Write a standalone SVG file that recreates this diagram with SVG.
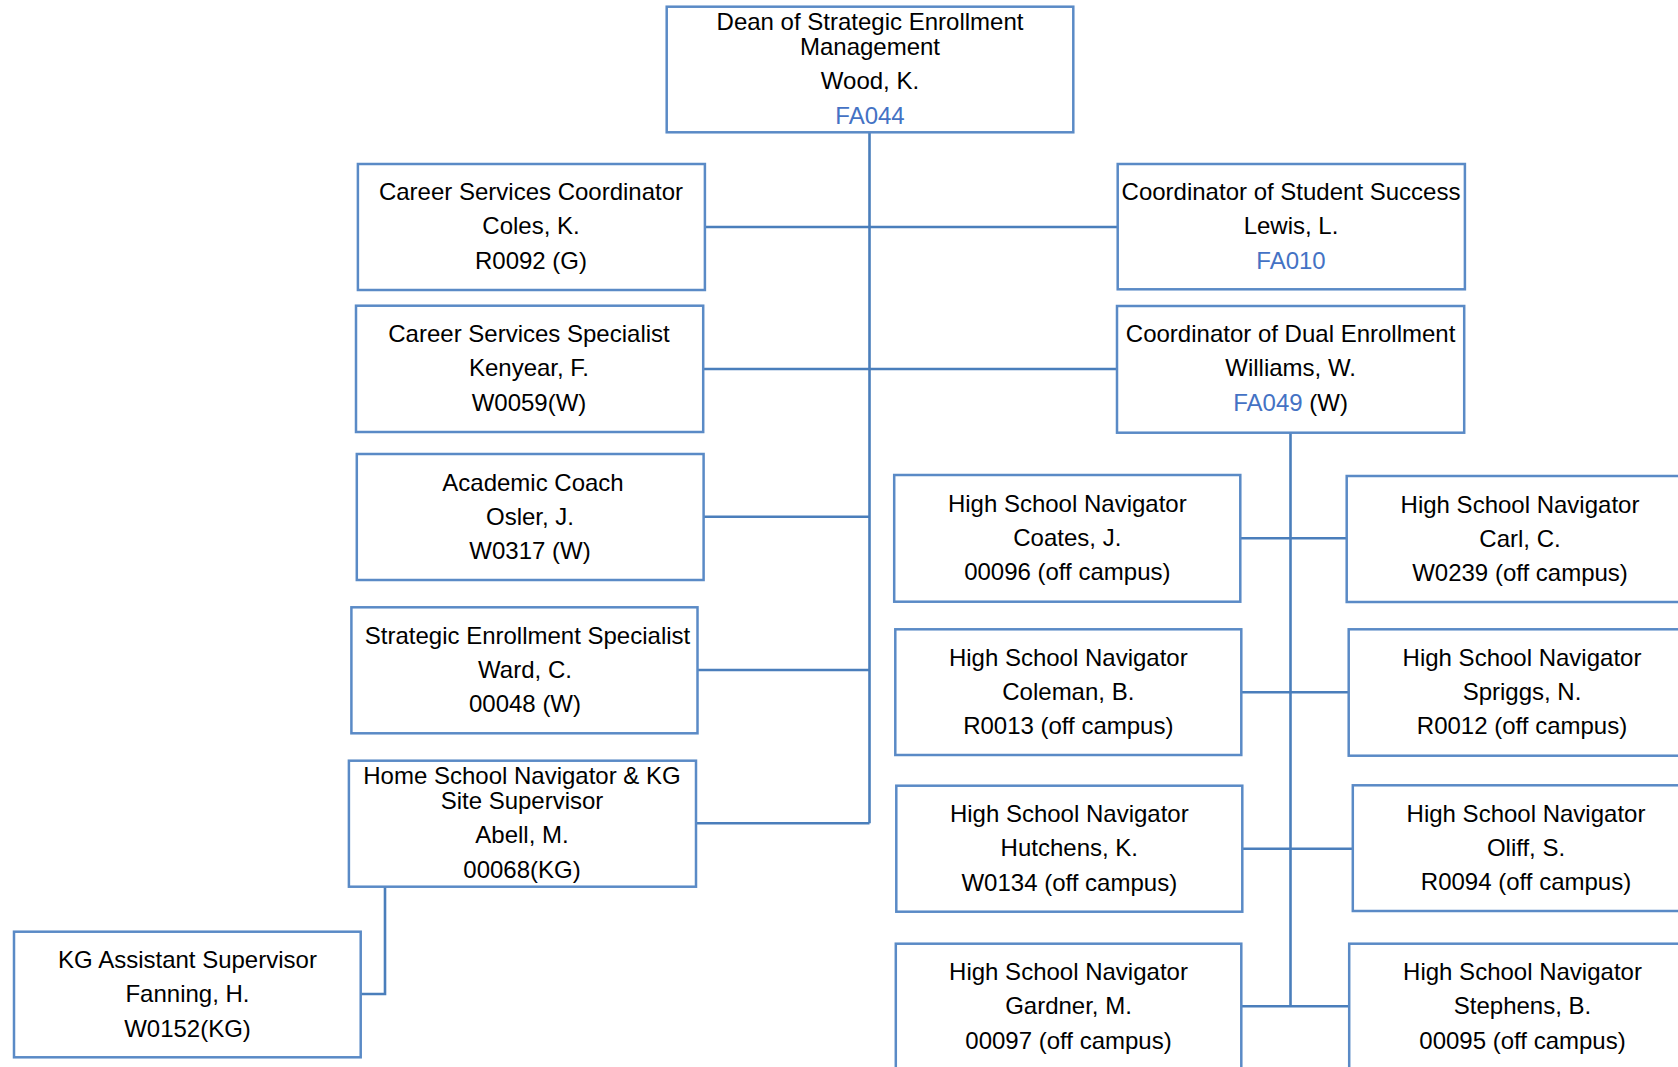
<svg xmlns="http://www.w3.org/2000/svg" width="1678" height="1067" viewBox="0 0 1678 1067">
<style>
.box{fill:#fff;stroke:#5A8AC6;stroke-width:2.5}
.c{fill:none;stroke:#4A7EBB;stroke-width:2.6}
text{font-family:"Liberation Sans",Arial,sans-serif;font-size:24px;fill:#000;text-anchor:middle}
.b{fill:#4472C4}
</style>
<rect width="1678" height="1067" fill="#fff"/>
<g id="connectors">
<path class="c" d="M869.5,132.3V823.3"/>
<path class="c" d="M704,227H1118"/>
<path class="c" d="M703,369H1117"/>
<path class="c" d="M703.6,516.7H869.5"/>
<path class="c" d="M697.5,670H869.5"/>
<path class="c" d="M696,823.3H869.5"/>
<path class="c" d="M385,886.7V994H360.7"/>
<path class="c" d="M1290.5,432.7V1006.3"/>
<path class="c" d="M1240.3,538.3H1346.7"/>
<path class="c" d="M1241.3,692.3H1348.7"/>
<path class="c" d="M1242.3,848.7H1352.8"/>
<path class="c" d="M1241.3,1006.3H1349.2"/>
</g>
<g id="dean">
<rect class="box" x="666.7" y="6.7" width="406.6" height="125.6"/>
<text x="870" y="30">Dean of Strategic Enrollment</text>
<text x="870" y="55">Management</text>
<text x="870" y="89">Wood, K.</text>
<text x="870" y="124" class="b">FA044</text>
</g>
<g id="career-coordinator">
<rect class="box" x="357.9" y="164" width="347" height="126"/>
<text x="531" y="200">Career Services Coordinator</text>
<text x="531" y="234">Coles, K.</text>
<text x="531" y="269">R0092 (G)</text>
</g>
<g id="student-success">
<rect class="box" x="1117.7" y="164" width="347.2" height="125.3"/>
<text x="1291" y="200">Coordinator of Student Success</text>
<text x="1291" y="234">Lewis, L.</text>
<text x="1291" y="269" class="b">FA010</text>
</g>
<g id="career-specialist">
<rect class="box" x="356" y="305.7" width="347.2" height="126.3"/>
<text x="529" y="342">Career Services Specialist</text>
<text x="529" y="376">Kenyear, F.</text>
<text x="529" y="411">W0059(W)</text>
</g>
<g id="dual-enrollment">
<rect class="box" x="1117" y="306" width="347.2" height="126.7"/>
<text x="1290.6" y="342">Coordinator of Dual Enrollment</text>
<text x="1290.6" y="376">Williams, W.</text>
<text x="1290.6" y="411"><tspan class="b">FA049</tspan> (W)</text>
</g>
<g id="academic-coach">
<rect class="box" x="356.8" y="454" width="346.8" height="126"/>
<text x="533" y="490.5">Academic Coach</text>
<text x="530" y="524.5">Osler, J.</text>
<text x="530" y="559">W0317 (W)</text>
</g>
<g id="strategic-specialist">
<rect class="box" x="351.4" y="607.3" width="346.1" height="126"/>
<text x="527.5" y="643.8">Strategic Enrollment Specialist</text>
<text x="525" y="677.8">Ward, C.</text>
<text x="525" y="712.3">00048 (W)</text>
</g>
<g id="home-school">
<rect class="box" x="348.9" y="760.7" width="347.1" height="126"/>
<text x="522" y="783.5">Home School Navigator &amp; KG</text>
<text x="522" y="808.5">Site Supervisor</text>
<text x="522" y="843">Abell, M.</text>
<text x="522" y="877.5">00068(KG)</text>
</g>
<g id="kg-assistant">
<rect class="box" x="14" y="931.7" width="346.7" height="125.6"/>
<text x="187.5" y="968.3">KG Assistant Supervisor</text>
<text x="187.5" y="1002.3">Fanning, H.</text>
<text x="187.5" y="1036.7">W0152(KG)</text>
</g>
<g id="hs-coates">
<rect class="box" x="894.2" y="475" width="346.1" height="126.7"/>
<text x="1067.3" y="511.7">High School Navigator</text>
<text x="1067.3" y="546">Coates, J.</text>
<text x="1067.3" y="580">00096 (off campus)</text>
</g>
<g id="hs-carl">
<rect class="box" x="1346.7" y="476" width="346.6" height="126"/>
<text x="1520" y="512.5">High School Navigator</text>
<text x="1520" y="546.5">Carl, C.</text>
<text x="1520" y="581">W0239 (off campus)</text>
</g>
<g id="hs-coleman">
<rect class="box" x="895.3" y="629.3" width="346" height="125.7"/>
<text x="1068.3" y="665.8">High School Navigator</text>
<text x="1068.3" y="699.8">Coleman, B.</text>
<text x="1068.3" y="734.3">R0013 (off campus)</text>
</g>
<g id="hs-spriggs">
<rect class="box" x="1348.7" y="629.3" width="346.6" height="126.4"/>
<text x="1522" y="665.8">High School Navigator</text>
<text x="1522" y="699.8">Spriggs, N.</text>
<text x="1522" y="734.3">R0012 (off campus)</text>
</g>
<g id="hs-hutchens">
<rect class="box" x="896.3" y="785.7" width="346" height="126"/>
<text x="1069.3" y="822.2">High School Navigator</text>
<text x="1069.3" y="856.2">Hutchens, K.</text>
<text x="1069.3" y="890.7">W0134 (off campus)</text>
</g>
<g id="hs-oliff">
<rect class="box" x="1352.8" y="785.3" width="346.6" height="125.7"/>
<text x="1526" y="821.8">High School Navigator</text>
<text x="1526" y="855.8">Oliff, S.</text>
<text x="1526" y="890.3">R0094 (off campus)</text>
</g>
<g id="hs-gardner">
<rect class="box" x="895.8" y="943.7" width="345.5" height="126"/>
<text x="1068.5" y="980.2">High School Navigator</text>
<text x="1068.5" y="1014.2">Gardner, M.</text>
<text x="1068.5" y="1048.7">00097 (off campus)</text>
</g>
<g id="hs-stephens">
<rect class="box" x="1349.2" y="943.7" width="346.6" height="126"/>
<text x="1522.5" y="980.2">High School Navigator</text>
<text x="1522.5" y="1014.2">Stephens, B.</text>
<text x="1522.5" y="1048.7">00095 (off campus)</text>
</g>
</svg>
